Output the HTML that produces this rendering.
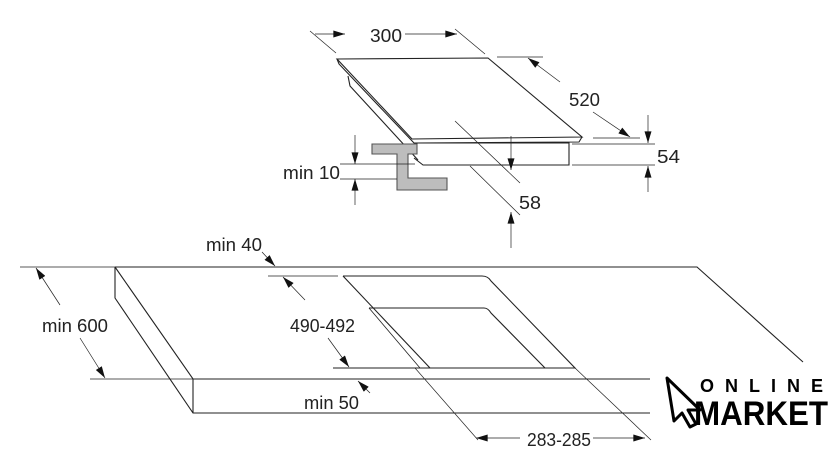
<!DOCTYPE html>
<html><head><style>
html,body{margin:0;padding:0;background:#fff;width:840px;height:475px;overflow:hidden}
text{font-family:"Liberation Sans",sans-serif;font-size:18px;fill:#222}
</style></head><body>
<svg width="840" height="475" viewBox="0 0 840 475" xmlns="http://www.w3.org/2000/svg">
<defs>
<marker id="a" viewBox="0 0 10 6" refX="10" refY="3" markerWidth="14" markerHeight="7" orient="auto" markerUnits="userSpaceOnUse"><path d="M0,0 L10,3 L0,6z" fill="#111"/></marker>
</defs>
<g stroke="#222" fill="none" stroke-width="1.1">
<path d="M337,59 L488,58 L582,137 L412,139 Z"/>
<path d="M337,59 L339,64 L414,143 L579,142 L582,137"/>
<path d="M348,76 L350,86 L418,160"/>
<path d="M414,143 L569,143 L569,165 L423,165 L414,158"/>
<path d="M372,144 L417,144 L417,154 L408,154 L408,178 L447,178 L447,190 L397,190 L397,154 L372,154 Z" fill="#bdbdbd" stroke="#555"/>
<line x1="310" y1="31" x2="336" y2="53" stroke-width="0.7"/>
<line x1="455" y1="29" x2="485" y2="54" stroke-width="0.7"/>
<line x1="315" y1="34" x2="345" y2="34" marker-end="url(#a)" stroke-width="0.7"/>
<line x1="405" y1="34" x2="457" y2="34" marker-end="url(#a)" stroke-width="0.7"/>
<line x1="497" y1="57" x2="543" y2="57" stroke-width="0.7"/>
<line x1="560" y1="82" x2="528" y2="58" marker-end="url(#a)" stroke-width="0.7"/>
<line x1="593" y1="112" x2="630" y2="137" marker-end="url(#a)" stroke-width="0.7"/>
<line x1="593" y1="138" x2="640" y2="138" stroke-width="0.7"/>
<line x1="572" y1="144" x2="655" y2="144" stroke-width="0.7"/>
<line x1="572" y1="165" x2="655" y2="165" stroke-width="0.7"/>
<line x1="648" y1="115" x2="648" y2="143" marker-end="url(#a)" stroke-width="0.7"/>
<line x1="648" y1="192" x2="648" y2="166" marker-end="url(#a)" stroke-width="0.7"/>
<line x1="455" y1="121" x2="520" y2="183" stroke-width="0.7"/>
<line x1="470" y1="166" x2="520" y2="215" stroke-width="0.7"/>
<line x1="511" y1="136" x2="511" y2="170" marker-end="url(#a)" stroke-width="0.7"/>
<line x1="511" y1="248" x2="511" y2="212" marker-end="url(#a)" stroke-width="0.7"/>
<line x1="355" y1="135" x2="355" y2="164" marker-end="url(#a)" stroke-width="0.7"/>
<line x1="355" y1="205" x2="355" y2="179" marker-end="url(#a)" stroke-width="0.7"/>
<line x1="340" y1="164" x2="415" y2="164" stroke-width="0.7"/>
<line x1="340" y1="179" x2="397" y2="179" stroke-width="0.7"/>
<path d="M115,267 L697,267 L803,362"/>
<path d="M115,267 L115,298 L193,413 L650,413"/>
<path d="M115,267 L193,379 L650,379"/>
<line x1="193" y1="379" x2="193" y2="413"/>
<line x1="20" y1="267" x2="115" y2="267" stroke-width="0.7"/>
<line x1="90" y1="379" x2="193" y2="379" stroke-width="0.7"/>
<path d="M343,276 L482,276 Q488,276 491,281 L575,368 L333,368"/>
<path d="M343,276 L430,368"/>
<path d="M369,308 L484,308 Q488,308 491,313 L545,368"/>
<path d="M369,308 L420,368" stroke-width="0.8"/>
<line x1="268" y1="276" x2="338" y2="276" stroke-width="0.7"/>
<line x1="415" y1="368" x2="478" y2="440" stroke-width="0.7"/>
<line x1="575" y1="368" x2="651" y2="440" stroke-width="0.7"/>
<line x1="60" y1="305" x2="36" y2="268" marker-end="url(#a)" stroke-width="0.7"/>
<line x1="80" y1="338" x2="105" y2="378" marker-end="url(#a)" stroke-width="0.7"/>
<line x1="305" y1="300" x2="283" y2="277" marker-end="url(#a)" stroke-width="0.7"/>
<line x1="328" y1="338" x2="349" y2="367" marker-end="url(#a)" stroke-width="0.7"/>
<line x1="262" y1="252" x2="275" y2="266" marker-end="url(#a)" stroke-width="0.7"/>
<line x1="370" y1="393" x2="358" y2="381" marker-end="url(#a)" stroke-width="0.7"/>
<line x1="520" y1="438" x2="476" y2="438" marker-end="url(#a)" stroke-width="0.7"/>
<line x1="593" y1="438" x2="645" y2="438" marker-end="url(#a)" stroke-width="0.7"/>
</g>
<g lengthAdjust="spacingAndGlyphs">
<text x="370" y="42" textLength="32" lengthAdjust="spacingAndGlyphs">300</text>
<text x="569" y="106" textLength="31" lengthAdjust="spacingAndGlyphs">520</text>
<text x="657" y="163" textLength="23" lengthAdjust="spacingAndGlyphs">54</text>
<text x="519" y="209" textLength="22" lengthAdjust="spacingAndGlyphs">58</text>
<text x="283" y="179" textLength="57" lengthAdjust="spacingAndGlyphs">min 10</text>
<text x="206" y="251" textLength="56" lengthAdjust="spacingAndGlyphs">min 40</text>
<text x="42" y="332" textLength="66" lengthAdjust="spacingAndGlyphs">min 600</text>
<text x="290" y="332" textLength="65" lengthAdjust="spacingAndGlyphs">490-492</text>
<text x="304" y="409" textLength="55" lengthAdjust="spacingAndGlyphs">min 50</text>
<text x="527" y="446" textLength="64" lengthAdjust="spacingAndGlyphs">283-285</text>
</g>
<path d="M667,378 L700,410 L688,410 L696,424 L690,427 L682,413 L674,421 Z" fill="none" stroke="#000" stroke-width="3" stroke-linejoin="round"/>
<text x="700" y="392" style="font-weight:bold;font-size:18px;letter-spacing:11px;fill:#000">ONLINE</text>
<text x="694" y="425" style="font-weight:bold;font-size:34px;fill:#000" textLength="134" lengthAdjust="spacingAndGlyphs">MARKET</text>
</svg>
</body></html>
